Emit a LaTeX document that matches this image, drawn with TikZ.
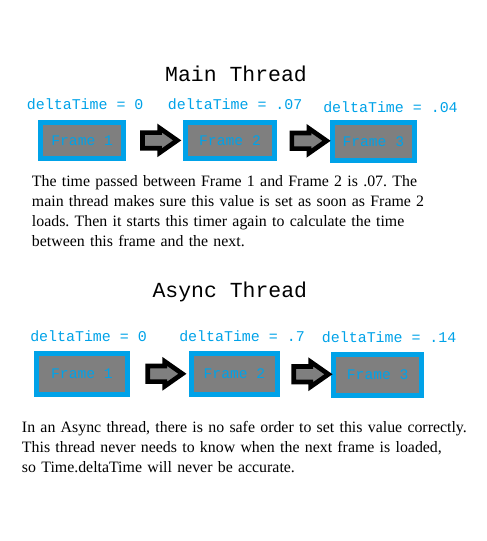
\documentclass[tikz,border=0pt]{standalone}
\usepackage{fontspec}
\setmainfont{Liberation Serif}
\setmonofont{Liberation Mono}
\usetikzlibrary{shapes.arrows,calc}
\definecolor{paintblue}{RGB}{0,162,232}
\definecolor{framegray}{RGB}{127,127,127}
\frenchspacing
\tikzset{
    framebox/.style={draw=paintblue, fill=framegray, line width=3.75pt, inner sep=0pt,
        text=paintblue, font=\ttfamily\fontsize{11}{13}\selectfont},
    steparrow/.style={single arrow, draw=black, fill=framegray, line width=3.5pt,
        inner sep=4.1pt, single arrow head extend=3.4pt, single arrow tip angle=70,
        minimum height=26pt},
    dtlabel/.style={anchor=base west, inner sep=0pt, text=paintblue,
        font=\ttfamily\fontsize{11.2}{13}\selectfont},
    threadtitle/.style={anchor=base, inner sep=0pt, font=\ttfamily\fontsize{16.1}{19}\selectfont},
    notetext/.style={anchor=base west, inner sep=0pt, align=left,
        font=\fontsize{11.9}{15}\selectfont}
}

\begin{document}
\begin{tikzpicture}[x=0.75pt, y=-0.75pt]
    \useasboundingbox (0,0) rectangle (486,541);

    \node[threadtitle] (maintitle) at (236,81.7) {Main Thread};
    \foreach \n/\x/\y/\t in {1/26.7/110/0, 2/167.7/110/.07, 3/323/112.3/.04} {
        \node[dtlabel] (ml\n) at (\x,\y) {deltaTime = \t};
    }
    \foreach \n/\x/\y/\w/\h in {1/82.2/140.5/62.0/27.0, 2/230/140.3/67.3/27.0, 3/373.3/141.3/61.3/28.3} {
        \node[framebox, minimum width=\w pt, minimum height=\h pt] (mf\n) at (\x,\y) {Frame \n};
    }
    \foreach \a/\b in {1/2, 2/3} {
        \node[steparrow] (ma\a) at ($(mf\a.east)!0.5!(mf\b.west)$) {};
    }
    \node[notetext, text width=330pt] (mainnote) at (31.7,186.7) {The time passed between Frame 1 and Frame 2 is .07. The\\
        main thread makes sure this value is set as soon as Frame 2\\
        loads. Then it starts this timer again to calculate the time\\
        between this frame and the next.};

    \node[threadtitle] (asynctitle) at (229.8,297.7) {Async Thread};
    \foreach \n/\x/\y/\t in {1/30/341.7/0, 2/179/341.7/.7, 3/321.7/342.7/.14} {
        \node[dtlabel] (al\n) at (\x,\y) {deltaTime = \t};
    }
    \foreach \n/\x/\y/\w/\h in {1/82/373.8/68.3/30.5, 2/234.5/373.8/64.5/30.5, 3/377.7/374.7/66.2/30.8} {
        \node[framebox, minimum width=\w pt, minimum height=\h pt] (af\n) at (\x,\y) {Frame \n};
    }
    \foreach \a/\b in {1/2, 2/3} {
        \node[steparrow] (aa\a) at ($(af\a.east)!0.5!(af\b.west)$) {};
    }
    \node[notetext, text width=345pt] (asyncnote) at (21.7,432.3) {In an Async thread, there is no safe order to set this value correctly.\\
        This thread never needs to know when the next frame is loaded,\\
        so Time.deltaTime will never be accurate.};
\end{tikzpicture}
\end{document}
